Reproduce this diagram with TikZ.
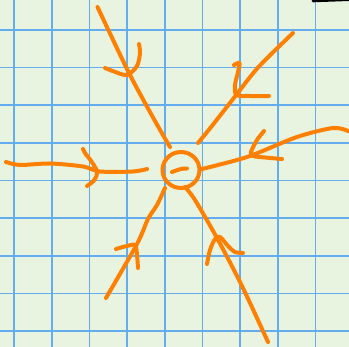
\documentclass[tikz,border=0pt]{standalone}
\begin{document}
\begin{tikzpicture}[x=1pt,y=-1pt,
  gridline/.style={draw=gridblue,line width=1.7pt},
  pen/.style={draw=penorange,line width=4pt,line cap=round,line join=round}]
\definecolor{paper}{RGB}{232,244,224}
\definecolor{gridblue}{RGB}{100,172,240}
\definecolor{penorange}{RGB}{255,128,0}
\useasboundingbox (0,0) rectangle (349,347);
\clip (0,0) rectangle (349,347);
\fill[paper] (0,0) rectangle (349,347);
% grid
\foreach \i in {0,...,8} {
  \draw[gridline] ({14+37.7*\i},0) -- ({14+37.7*\i},347);
  \draw[gridline] (0,{29.7+37.7*\i}) -- (349,{29.7+37.7*\i});
}
% black smudge top right
\draw[line width=3pt,line cap=round] (313,0.8) -- (349,-0.5);
% centre circle
\draw[pen] (181,170) ellipse [x radius=18.5, y radius=18];
\draw[pen] (172,172) .. controls (178,170) and (182,168) .. (187,168.5);
% top-left
\draw[pen] plot[smooth] coordinates {(97.5,7) (129,73) (155,121) (170,147)};
\draw[pen] plot[smooth] coordinates {(105,68) (114,71.5) (127,75) (137,66) (140,53) (139,44)};
% left
\draw[pen] plot[smooth] coordinates {(6,162) (20,165) (50,163.5) (83,166.5) (100,171.5) (133,171.5) (147,169)};
\draw[pen] plot[smooth] coordinates {(83,149) (85,153) (91.5,161.5) (96.5,170) (96.5,176) (93,181.5) (87,186)};
% top-right
\draw[pen] plot[smooth] coordinates {(293,33) (258.5,67) (235,96.5) (211.5,126.5) (198,143)};
\draw[pen] plot[smooth] coordinates {(234,65) (239.5,63) (238,72) (235,85) (236.5,95) (250,96) (269,96)};
% right
\draw[pen] plot[smooth] coordinates {(348,131) (333,128) (297,137) (250,156) (218,165) (200,169.5)};
\draw[pen] plot[smooth] coordinates {(264,131) (257,140) (251,152) (253,156) (265,157.5) (282,159)};
% lower-left
\draw[pen] plot[smooth] coordinates {(165,188) (157,205) (148,219) (137,244) (106,298)};
\draw[pen] plot[smooth] coordinates {(116,249) (125,246.5) (135,245) (137,255) (138,268)};
% lower-right
\draw[pen] plot[smooth] coordinates {(185,187) (195,200) (217,238) (241.5,285) (268,342)};
\draw[pen] plot[smooth] coordinates {(207,264) (210,250) (215,239) (220,237) (228,246) (235,252) (243,253)};
\end{tikzpicture}
\end{document}
